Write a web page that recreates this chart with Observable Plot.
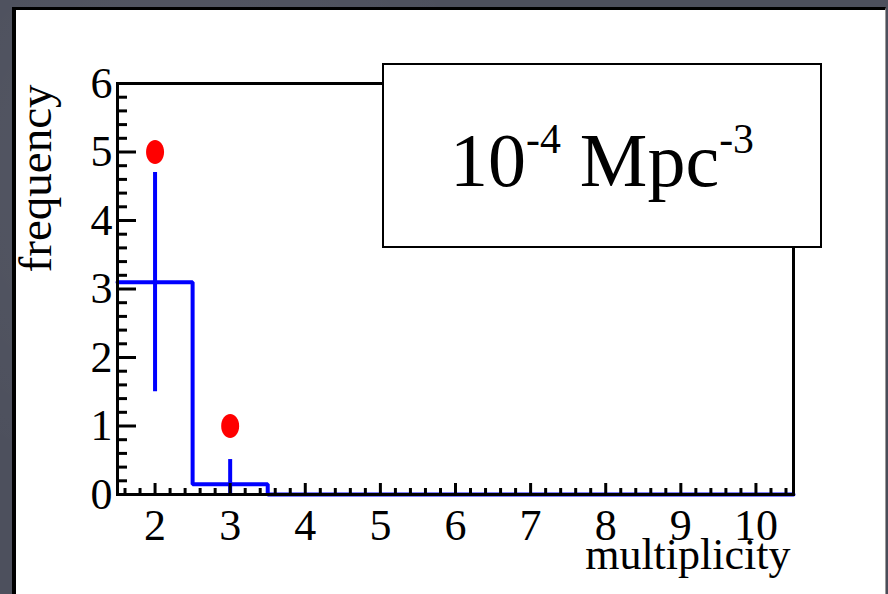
<!DOCTYPE html>
<html>
<head>
<meta charset="utf-8">
<script src="https://cdn.jsdelivr.net/npm/d3@7"></script>
<script src="https://cdn.jsdelivr.net/npm/@observablehq/plot@0.6"></script>
<style>
  html, body { margin: 0; padding: 0; width: 888px; height: 594px; overflow: hidden; }
  body {
    position: relative;
    background-color: #4d505d;
    background-image:
      radial-gradient(circle at 20% 30%, rgba(255,255,255,0.05), rgba(0,0,0,0) 40%),
      radial-gradient(circle at 80% 80%, rgba(0,0,0,0.10), rgba(0,0,0,0) 45%);
  }
  #panel {
    position: absolute; left: 12px; top: 7px; width: 869px; height: 620px;
    background: #fff;
    border-left: 4px solid #000; border-top: 3px solid #000; border-right: 1px solid #9a9a9a;
  }
  #chart { position: absolute; left: 0; top: 0; }
  #legend {
    position: absolute; left: 382px; top: 63px; width: 436px; height: 181px;
    border: 2px solid #000; background: #fff;
    font-family: "Liberation Serif", serif; font-size: 76px; line-height: 1;
    display: flex; align-items: center; justify-content: center;
    box-sizing: content-box; padding-top: 0;
  }
  #legend .sup { font-size: 0.55em; position: relative; top: -0.78em; }
</style>
</head>
<body>
<div id="panel"></div>
<div id="chart"></div>
<div id="legend"><span style="position:relative;top:4px">10<span class="sup">-4</span> Mpc<span class="sup">-3</span></span></div>
<script>
// Axis tick labels
const xTicks = [2, 3, 4, 5, 6, 7, 8, 9, 10];
const yTicks = [0, 1, 2, 3, 4, 5, 6];
const xDomain = [1.5, 10.5];
const yDomain = [0, 6];

// Predicted multiplicity histogram (bin centres, contents, errors)
const binCenters = [2, 3, 4, 5, 6, 7, 8, 9, 10];
const binCounts  = [3.1, 0.15, 0, 0, 0, 0, 0, 0, 0];
const binErrors  = [1.6, 0.36, 0, 0, 0, 0, 0, 0, 0];

// Observed multiplets
const obsMultiplicity = [2, 3];
const obsFrequency    = [5, 1];

// Histogram outline: left edge of each bin plus the closing right edge
const histPoints = binCenters.map((c, i) => ({x: c - 0.5, y: binCounts[i]}));
histPoints.push({x: binCenters[binCenters.length - 1] + 0.5, y: binCounts[binCounts.length - 1]});

const errorBars = binCenters
  .map((c, i) => ({x: c, v: binCounts[i], e: binErrors[i]}))
  .filter(d => d.e > 0);

const observed = obsMultiplicity.map((m, i) => ({x: m, y: obsFrequency[i]}));

// Minor ticks every 0.2 between the labelled ones
const notInteger = d => Math.abs(d - Math.round(d)) > 1e-6;
const xMinor = d3.range(16, 105, 2).map(d => d / 10).filter(notInteger);
const yMinor = d3.range(0, 60, 2).map(d => d / 10).filter(notInteger);

// Slightly tall ellipse marker
const ellipse = {
  draw(context, size) {
    const r = Math.sqrt(size / Math.PI);
    const rx = r * 0.75, ry = r, k = 0.5523;
    context.moveTo(rx, 0);
    context.bezierCurveTo(rx, k * ry, k * rx, ry, 0, ry);
    context.bezierCurveTo(-k * rx, ry, -rx, k * ry, -rx, 0);
    context.bezierCurveTo(-rx, -k * ry, -k * rx, -ry, 0, -ry);
    context.bezierCurveTo(k * rx, -ry, rx, -k * ry, rx, 0);
    context.closePath();
  }
};

const blue = "#0000ff";
const font = "Liberation Serif";

const chart = Plot.plot({
  width: 888,
  height: 594,
  marginLeft: 117,
  marginRight: 95,
  marginTop: 83,
  marginBottom: 100,
  x: {domain: xDomain},
  y: {domain: yDomain},
  style: {background: "none", fontFamily: font, color: "black", overflow: "visible"},
  marks: [
    Plot.line(histPoints, {x: "x", y: "y", curve: "step-after", stroke: blue, strokeWidth: 4, strokeLinejoin: "miter"}),
    Plot.ruleX(errorBars, {x: "x", y1: d => Math.max(0, d.v - d.e), y2: d => d.v + d.e, stroke: blue, strokeWidth: 4}),
    Plot.frame({stroke: "black", strokeWidth: 3}),
    // inward ticks on the bottom axis
    Plot.ruleX(xTicks, {x: d => d, y1: yDomain[0], y2: yDomain[0], insetTop: -11, stroke: "black", strokeWidth: 3}),
    Plot.ruleX(xMinor, {x: d => d, y1: yDomain[0], y2: yDomain[0], insetTop: -6, stroke: "black", strokeWidth: 3}),
    // inward ticks on the left axis
    Plot.ruleY(yTicks, {y: d => d, x1: xDomain[0], x2: xDomain[0], insetRight: -19, stroke: "black", strokeWidth: 3}),
    Plot.ruleY(yMinor, {y: d => d, x1: xDomain[0], x2: xDomain[0], insetRight: -10, stroke: "black", strokeWidth: 3}),
    Plot.axisX(xTicks, {tickSize: 0, tickPadding: 14, fontSize: 44, label: null, fill: "black", tickFormat: d => String(d)}),
    Plot.axisY(yTicks, {tickSize: 0, tickPadding: 5, fontSize: 44, label: null, fill: "black", tickFormat: d => String(d)}),
    Plot.text(["multiplicity"], {frameAnchor: "bottom-right", textAnchor: "end", dx: -3, dy: 74, fontSize: 44, fill: "black"}),
    Plot.text(["frequency"], {frameAnchor: "top-left", rotate: -90, textAnchor: "end", dx: -100, dy: 1, fontSize: 47, fill: "black"}),
    Plot.dot(observed, {x: "x", y: "y", r: 12, symbol: ellipse, fill: "#ff0000", stroke: "none"})
  ]
});

document.getElementById("chart").appendChild(chart);
</script>
</body>
</html>
